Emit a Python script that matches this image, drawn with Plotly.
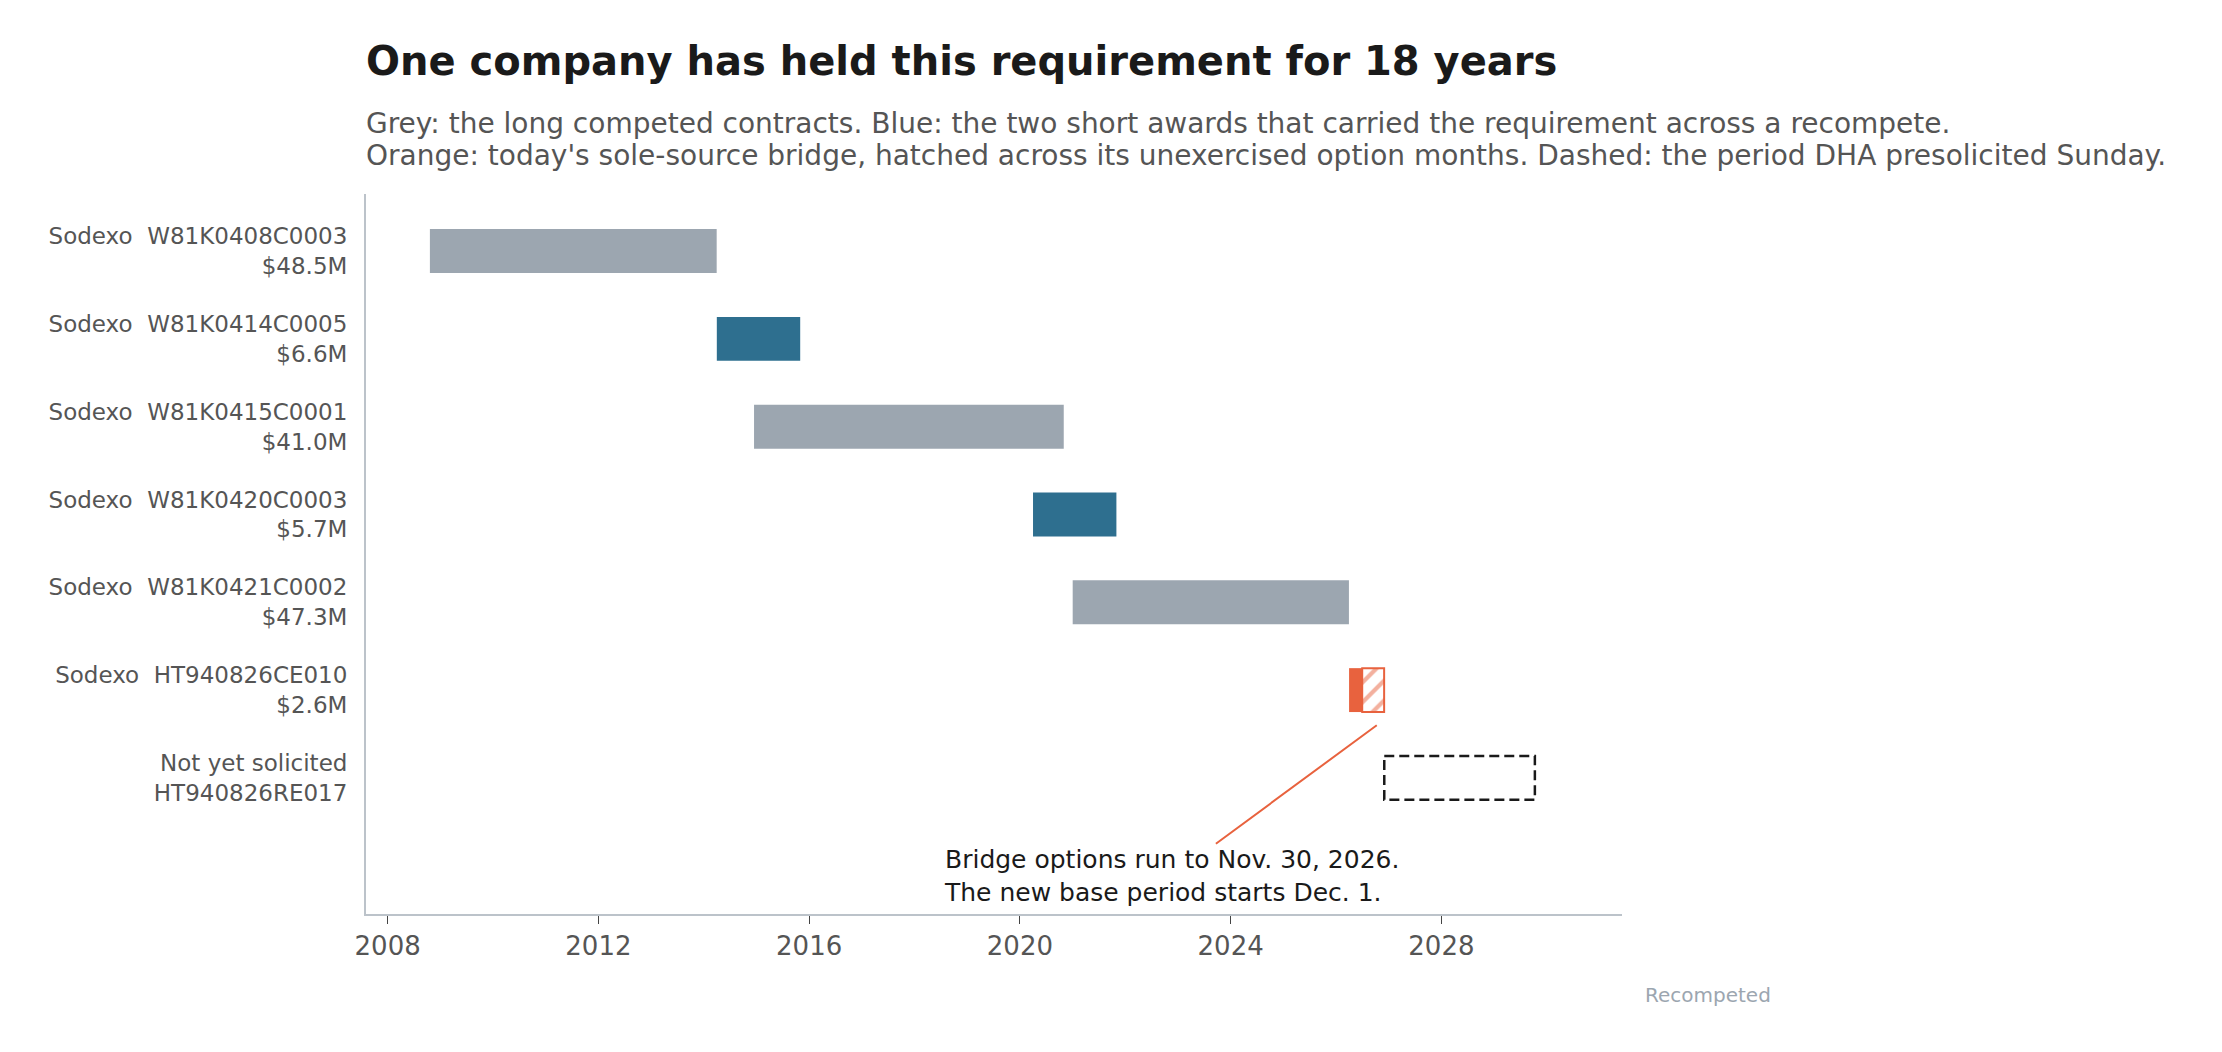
import pandas as pd
import plotly.graph_objects as go


# ==========================================
# DATA
# ==========================================

vendors = ["Sodexo", "Sodexo", "Sodexo", "Sodexo", "Sodexo", "Sodexo", "Not yet solicited"]
contracts = ["W81K0408C0003", "W81K0414C0005", "W81K0415C0001", "W81K0420C0003",
             "W81K0421C0002", "HT940826CE010", "HT940826RE017"]
values = ["$48.5M", "$6.6M", "$41.0M", "$5.7M", "$47.3M", "$2.6M", ""]
kinds = ["competed", "short", "competed", "short", "competed", "bridge", "presol"]

starts = ["2008-10-20", "2014-04-01", "2014-12-15", "2020-04-01",
          "2021-01-01", "2026-04-01", "2026-12-01"]
ends = ["2014-03-31", "2015-10-31", "2020-10-31", "2021-10-31",
        "2026-03-31", "2026-11-30", "2029-10-10"]

# bridge: options (unexercised) start here
option_start = "2026-07-01"

x_ticks = ["2008-01-01", "2012-01-01", "2016-01-01", "2020-01-01", "2024-01-01", "2028-01-01"]
x_tick_text = ["2008", "2012", "2016", "2020", "2024", "2028"]

GREY = "#9ca6b0"
BLUE = "#2e6f8f"
ORANGE = "#e8623e"
TEXT = "#555555"


def ms(a, b):
    return (pd.to_datetime(b) - pd.to_datetime(a)).total_seconds() * 1000


labels = []
for v, c, val in zip(vendors, contracts, values):
    if val:
        labels.append(f"{v}\u00a0\u00a0{c}<br>{val}")
    else:
        labels.append(f"{v}<br>{c}")

rows = list(range(len(contracts)))

fig = go.Figure()

# ==========================================
# BARS
# ==========================================

for i, k in enumerate(kinds):
    if k in ("competed", "short"):
        fig.add_trace(
            go.Bar(
                y=[rows[i]],
                x=[ms(starts[i], ends[i])],
                base=[starts[i]],
                orientation="h",
                width=0.5,
                marker=dict(color=GREY if k == "competed" else BLUE, line=dict(width=0)),
                showlegend=False,
            )
        )
    elif k == "bridge":
        # exercised part
        fig.add_trace(
            go.Bar(
                y=[rows[i]],
                x=[ms(starts[i], option_start)],
                base=[starts[i]],
                orientation="h",
                width=0.5,
                marker=dict(color=ORANGE, line=dict(width=0)),
                showlegend=False,
            )
        )
        # option months, hatched
        fig.add_trace(
            go.Bar(
                y=[rows[i]],
                x=[ms(option_start, ends[i])],
                base=[option_start],
                orientation="h",
                width=0.5,
                marker=dict(
                    color="white",
                    line=dict(color=ORANGE, width=2),
                    pattern=dict(shape="/", fgcolor=ORANGE, bgcolor="white",
                                 size=14, solidity=0.3, fillmode="overlay"),
                ),
                showlegend=False,
            )
        )
    else:
        # presolicited period, dashed outline
        fig.add_shape(
            type="rect",
            xref="x", yref="y",
            x0=starts[i], x1=ends[i],
            y0=rows[i] - 0.25, y1=rows[i] + 0.25,
            line=dict(color="#1a1a1a", width=2.5, dash="10px,5px"),
            fillcolor="rgba(0,0,0,0)",
        )

# ==========================================
# ANNOTATIONS
# ==========================================

fig.add_annotation(
    x="2026-10-10", y=5.4, xref="x", yref="y",
    text="Bridge options run to Nov. 30, 2026.<br>The new base period starts Dec. 1.",
    showarrow=True, arrowhead=0, arrowwidth=2, arrowcolor=ORANGE,
    ax=-205, ay=151, align="left",
    font=dict(size=25, color="#1a1a1a"),
)

fig.add_annotation(
    x=-0.0016, y=1.1847, xref="paper", yref="paper", xanchor="left", yanchor="middle",
    text="<b>One company has held this requirement for 18 years</b>",
    showarrow=False, font=dict(size=40, color="#1a1a1a"),
)

subtitle = [
    "Grey: the long competed contracts. Blue: the two short awards that carried the requirement across a recompete.",
    "Orange: today's sole-source bridge, hatched across its unexercised option months. Dashed: the period DHA presolicited Sunday.",
]
for line, yy in zip(subtitle, [1.0986, 1.0528]):
    fig.add_annotation(
        x=-0.0016, y=yy, xref="paper", yref="paper", xanchor="left", yanchor="middle",
        text=line, showarrow=False, align="left", font=dict(size=28, color=TEXT),
    )

fig.add_annotation(
    x=1.0685, y=-0.1125, xref="paper", yref="paper", xanchor="center", yanchor="middle",
    text="Recompeted", showarrow=False, font=dict(size=20, color="#9ca6b0"),
)

fig.update_layout(
    width=2222,
    height=1052,
    margin=dict(l=358, r=608, t=186, b=146),
    paper_bgcolor="white",
    plot_bgcolor="white",
    barmode="overlay",
    showlegend=False,
    font=dict(family="DejaVu Sans", color=TEXT),
)

fig.update_xaxes(
    type="date",
    range=["2007-08-04", "2031-06-06"],
    tickvals=x_ticks,
    ticktext=x_tick_text,
    ticks="outside",
    ticklen=8,
    tickcolor="#444444",
    tickfont=dict(size=26, color=TEXT),
    showline=True,
    linecolor="#bcc3ca",
    linewidth=2,
    showgrid=False,
    zeroline=False,
)

fig.update_yaxes(
    range=[7.55, -0.65],
    tickvals=rows,
    ticktext=labels,
    tickfont=dict(size=23, color=TEXT),
    ticks="",
    ticklabelstandoff=12,
    showline=True,
    linecolor="#bcc3ca",
    linewidth=2,
    showgrid=False,
    zeroline=False,
)

fig.write_html("out.html")
